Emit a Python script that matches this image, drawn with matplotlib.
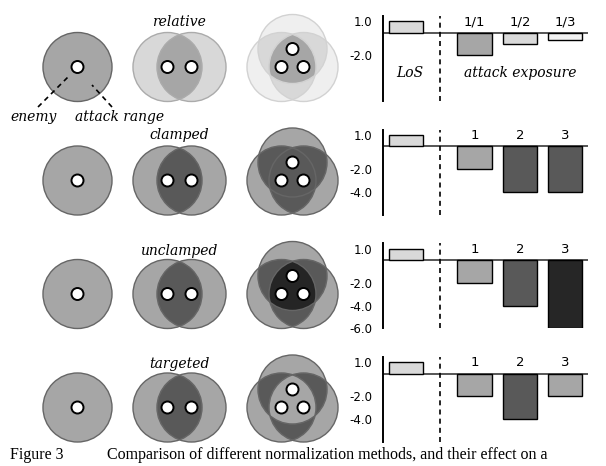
import numpy as np
import matplotlib
matplotlib.use("Agg")
import matplotlib.pyplot as plt
from matplotlib.patches import Circle
from matplotlib.colors import to_rgb

# ---- data ----
methods = ["relative", "clamped", "unclamped", "targeted"]
los_values = [1.0, 1.0, 1.0, 1.0]
exposure_values = [[-2.0, -1.0, -0.67],
                   [-2.0, -4.0, -4.0],
                   [-2.0, -4.0, -6.0],
                   [-2.0, -4.0, -2.0]]
exposure_labels = [["1/1", "1/2", "1/3"],
                   ["1", "2", "3"],
                   ["1", "2", "3"],
                   ["1", "2", "3"]]
ytick_values = [[1.0, -2.0],
                [1.0, -2.0, -4.0],
                [1.0, -2.0, -4.0, -6.0],
                [1.0, -2.0, -4.0]]

A = "#a6a6a6"
D = "#595959"
K = "#262626"
L = "#d9d9d9"
LL = "#f0f0f0"

# shade of an area covered by k circles (index k-1), for 1, 2 and 3 enemies
shades = {
    "relative": {1: [A], 2: [L, A], 3: [LL, L, A]},
    "clamped": {1: [A], 2: [A, D], 3: [A, D, D]},
    "unclamped": {1: [A], 2: [A, D], 3: [A, D, K]},
    "targeted": {1: [A], 2: [A, D], 3: [A, D, A]},
}
bar_colors = [[A, L, "#f2f2f2"], [A, D, D], [A, D, K], [A, D, A]]
los_color = L

# ---- figure ----
fig = plt.figure(figsize=(6.06, 4.66), dpi=100)
ax = fig.add_axes([0, 0, 1, 1])
ax.set_xlim(0, 606)
ax.set_ylim(466, 0)
ax.axis("off")

R = 34.5
r_dot = 6
row_y0 = 67
row_step = 113.5

def groups(cy):
    return {1: [(77.5, cy)],
            2: [(167.5, cy), (191.5, cy)],
            3: [(292.5, cy - 18), (281.5, cy), (303.5, cy)]}

# raster of the overlapping areas
res = 4
W, H = 350, 450
xs = (np.arange(W * res) + 0.5) / res
ys = (np.arange(H * res) + 0.5) / res
X, Y = np.meshgrid(xs, ys)
img = np.ones((H * res, W * res, 3))

for i, m in enumerate(methods):
    cy = row_y0 + i * row_step
    for k, cents in groups(cy).items():
        n = np.zeros(X.shape, dtype=int)
        for cx, cyy in cents:
            n += ((X - cx) ** 2 + (Y - cyy) ** 2 <= R ** 2)
        for j, col in enumerate(shades[m][k]):
            img[n == j + 1] = to_rgb(col)

ax.imshow(img, extent=(0, W, H, 0), aspect="auto", zorder=1)
ax.set_xlim(0, 606)
ax.set_ylim(466, 0)

for i, m in enumerate(methods):
    cy = row_y0 + i * row_step
    for k, cents in groups(cy).items():
        if m == "relative":
            ec = {1: "#666666", 2: "#ababab", 3: "#d2d2d2"}[k]
        else:
            ec = "#666666"
        for cx, cyy in cents:
            ax.add_patch(Circle((cx, cyy), R, fill=False, ec=ec, lw=1.0, zorder=2))
        for cx, cyy in cents:
            ax.add_patch(Circle((cx, cyy), r_dot, fc="white", ec="black", lw=1.4, zorder=3))
    ax.text(179, cy - 45 + (i == 2) * 1.5 + (i == 3) * 1.5, m, ha="center", va="center",
            fontsize=10, family="DejaVu Serif", style="italic")

# labels of the first diagram
ax.plot([38, 70], [107, 75], color="black", lw=1.2, ls=(0, (3, 2.5)), zorder=4)
ax.plot([112, 92], [107, 85], color="black", lw=1.2, ls=(0, (3, 2.5)), zorder=4)
ax.text(34, 117, "enemy", ha="center", va="center", fontsize=10,
        family="DejaVu Serif", style="italic")
ax.text(120, 117, "attack range", ha="center", va="center", fontsize=10,
        family="DejaVu Serif", style="italic")

# caption
ax.text(10, 455, "Figure 3", ha="left", va="center", fontsize=11.5,
        family="Liberation Serif")
ax.text(107, 455, "Comparison of different normalization methods, and their effect on a",
        ha="left", va="center", fontsize=11.5, family="Liberation Serif")

# ---- bar charts ----
x_los = 0
x_exp = [1.5, 2.5, 3.5]
for i, m in enumerate(methods):
    top = 16 + i * 113.7
    bx = fig.add_axes([383.3 / 606, 1 - (top + 85) / 466, (587.7 - 383.3) / 606, 85 / 466])
    bx.patch.set_alpha(0)
    bx.bar([x_los], [los_values[i]], width=0.75, color=los_color, edgecolor="black", lw=1)
    bx.bar(x_exp, exposure_values[i], width=0.75, color=bar_colors[i],
           edgecolor="black", lw=1)
    bx.axhline(0, color="#555555", lw=1.4, zorder=0)
    bx.axvline(0.75, color="black", lw=1.2, ls=(0, (3, 2.5)))
    bx.set_xlim(-0.505, 3.99)
    bx.set_ylim(-6.0, 1.45)
    for s in ["top", "right", "bottom"]:
        bx.spines[s].set_visible(False)
    bx.spines["left"].set_linewidth(1.4)
    bx.set_xticks([])
    bx.set_yticks(ytick_values[i])
    bx.set_yticklabels(["%.1f" % v for v in ytick_values[i]], fontsize=8.5)
    bx.tick_params(axis="y", length=0, pad=8)
    for xx, lab in zip(x_exp, exposure_labels[i]):
        bx.text(xx, 0.95, lab, ha="center", va="center", fontsize=9.5)
    if i == 0:
        bx.text(0.08, -3.55, "LoS", ha="center", va="center", fontsize=10,
                family="DejaVu Serif", style="italic")
        bx.text(2.5, -3.55, "attack exposure", ha="center", va="center", fontsize=10,
                family="DejaVu Serif", style="italic")

fig.savefig("out.png", dpi=100)
